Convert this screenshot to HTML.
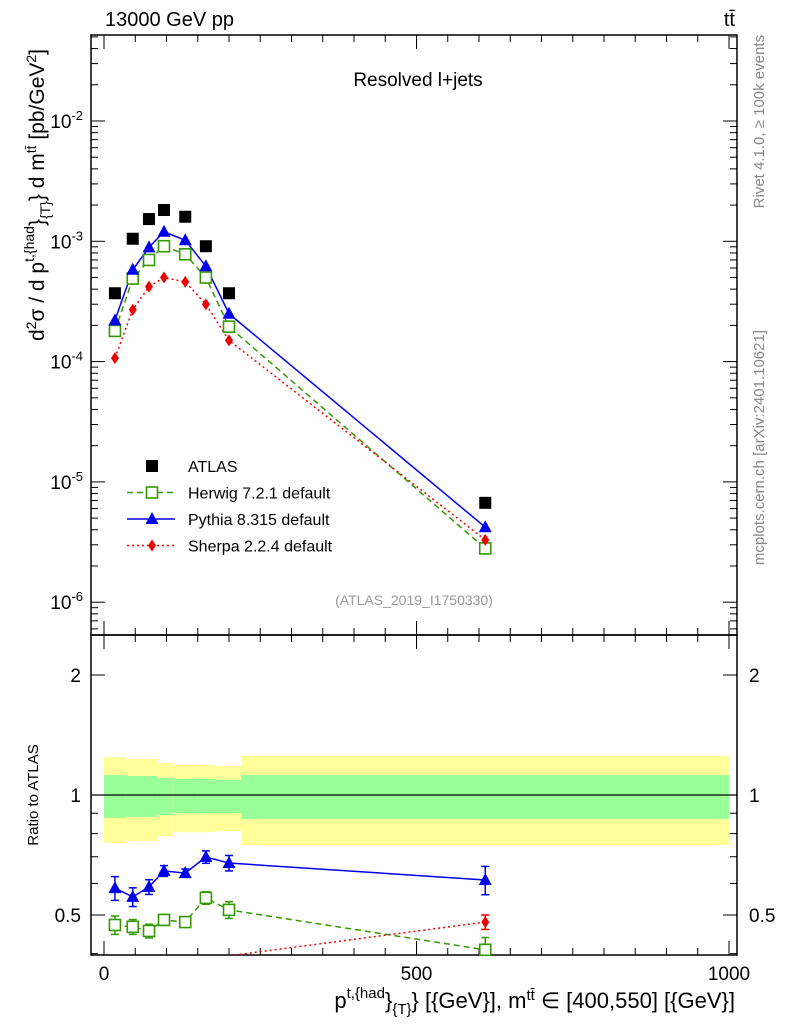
<!DOCTYPE html>
<html><head><meta charset="utf-8"><style>
body{margin:0;background:#fff;width:786px;height:1024px;overflow:hidden}
svg text{font-family:"Liberation Sans",sans-serif}
</style></head><body>
<svg id="c" width="786" height="1024" xmlns="http://www.w3.org/2000/svg"></svg>
<script>
const xs=[17.5,46,72,96,130,163,200,610];
const atlas=[3.7e-4,1.05e-3,1.53e-3,1.82e-3,1.6e-3,9.1e-4,3.7e-4,6.7e-6];
const pythia=[2.2e-4,5.8e-4,8.9e-4,1.2e-3,1.02e-3,6.2e-4,2.5e-4,4.2e-6];
const herwig=[1.8e-4,4.9e-4,7.0e-4,9.1e-4,7.8e-4,5.0e-4,1.95e-4,2.8e-6];
const sherpa=[1.07e-4,2.7e-4,4.2e-4,5.0e-4,4.6e-4,3.0e-4,1.5e-4,3.3e-6];
const rPythia=[0.584,0.555,0.588,0.645,0.637,0.699,0.675,0.612];
const rPythiaErr=[0.04,0.03,0.025,0.02,0.015,0.025,0.03,0.05];
const rHerwig=[0.472,0.467,0.456,0.486,0.48,0.552,0.515,0.409];
const rHerwigErr=[0.025,0.02,0.018,0.015,0.012,0.02,0.025,0.03];
const rSherpa=[0.29,0.28,0.28,0.29,0.29,0.31,0.395,0.48];
const edges=[0,35,60,85,110,150,180,220,1000];
const band2Hi=[1.245,1.231,1.231,1.203,1.189,1.189,1.182,1.253];
const band1Hi=[1.122,1.116,1.116,1.103,1.097,1.097,1.091,1.122];
const band1Lo=[0.876,0.881,0.881,0.891,0.901,0.901,0.901,0.871];
const band2Lo=[0.758,0.767,0.767,0.789,0.807,0.807,0.812,0.749];
const mainTicks=[-6,-5,-4,-3,-2];
const xTicks=[0,500,1000];

const S=document.getElementById('c'),NS='http://www.w3.org/2000/svg';
function el(t,a,p){const e=document.createElementNS(NS,t);for(const k in a)e.setAttribute(k,a[k]);(p||S).appendChild(e);return e;}
const L=91,R=737,T=35,MB=635,RB=955;
const X=v=>104+v*0.625;
const Y=v=>121-(Math.log10(v)+2)*120.3;
const RY=v=>795-Math.log2(v)*120;
const defs=el('defs',{});
const cp=el('clipPath',{id:'rc'},defs);el('rect',{x:L,y:MB,width:R-L,height:RB-MB},cp);
const cm=el('clipPath',{id:'mc'},defs);el('rect',{x:L,y:T,width:R-L,height:MB-T},cm);
const gb=el('g',{'clip-path':'url(#rc)'});
for(let i=0;i<edges.length-1;i++){
 const x1=X(edges[i]),x2=X(edges[i+1]);
 const y=el('rect',{x:x1,y:RY(band2Hi[i]),width:x2-x1,height:RY(band2Lo[i])-RY(band2Hi[i]),fill:'#ffff99'},gb);
 
 const g=el('rect',{x:x1,y:RY(band1Hi[i]),width:x2-x1,height:RY(band1Lo[i])-RY(band1Hi[i]),fill:'#99ff99'},gb);
 
}
el('line',{x1:L,x2:R,y1:795,y2:795,stroke:'#000','stroke-width':1.3});
el('rect',{x:L,y:T,width:R-L,height:MB-T,fill:'none',stroke:'#000','stroke-width':1.5});
el('rect',{x:L,y:MB,width:R-L,height:RB-MB,fill:'none',stroke:'#000','stroke-width':1.5});
for(const e of mainTicks){
 const y=Y(Math.pow(10,e));
 el('line',{x1:L,x2:L+14,y1:y,y2:y,stroke:'#000'});el('line',{x1:R,x2:R-14,y1:y,y2:y,stroke:'#000'});
 const t=el('text',{x:L-8,y:y+7,'font-size':19,'text-anchor':'end'});t.innerHTML='10<tspan dy="-8" font-size="13">'+e+'</tspan>';
 
}
for(let e=-7;e<=-2;e++)for(let m=2;m<10;m++){const y=Y(m*Math.pow(10,e));if(y<T||y>MB)continue;
 el('line',{x1:L,x2:L+7,y1:y,y2:y,stroke:'#000'});el('line',{x1:R,x2:R-7,y1:y,y2:y,stroke:'#000'});}
for(let v=0;v<=1000;v+=50){const x=X(v),big=v%500==0,h=big?14:7;
 for(const yb of [MB,RB]){el('line',{x1:x,x2:x,y1:yb,y2:yb-h,stroke:'#000'});}
 el('line',{x1:x,x2:x,y1:T,y2:T+h,stroke:'#000'});el('line',{x1:x,x2:x,y1:MB,y2:MB+h,stroke:'#000'});}
for(const v of xTicks){const t=el('text',{x:X(v),y:980,'font-size':19,'text-anchor':'middle'});t.textContent=v;
 }
for(const v of [0.4,0.5,0.6,0.7,0.8,0.9,1,2]){const y=RY(v),h=(v==0.5||v==1||v==2)?14:7;
 el('line',{x1:L,x2:L+h,y1:y,y2:y,stroke:'#000'});el('line',{x1:R,x2:R-h,y1:y,y2:y,stroke:'#000'});}
for(const v of [0.5,1,2]){
 const a=el('text',{x:L-10,y:RY(v)+7,'font-size':19,'text-anchor':'end'});a.textContent=v;
 
 const b=el('text',{x:R+12,y:RY(v)+7,'font-size':19});b.textContent=v;
 }
function line(vals,fy,col,dash,clip,name){const p=el('polyline',{points:vals.map((v,i)=>X(xs[i])+','+fy(v)).join(' '),fill:'none',stroke:col,'stroke-width':1.5,'stroke-dasharray':dash,'clip-path':clip});
 }
function marker(kind,x,y,col,name){let m;
 if(kind=='sq')m=el('rect',{x:x-6,y:y-6,width:12,height:12,fill:'#000'});
 else if(kind=='osq')m=el('rect',{x:x-5.5,y:y-5.5,width:11,height:11,fill:'#fff',stroke:col,'stroke-width':1.6});
 else if(kind=='tri')m=el('polygon',{points:`${x},${y-7} ${x-6.5},${y+5} ${x+6.5},${y+5}`,fill:col});
 else m=el('polygon',{points:`${x},${y-6} ${x-4},${y} ${x},${y+6} ${x+4},${y}`,fill:col});
 }
const G='#339900',B='#0000ee',Rd='#ee0000';
line(herwig,Y,G,'6,4','url(#mc)','herwig-line');
line(pythia,Y,B,'','url(#mc)','pythia-line');
line(sherpa,Y,Rd,'2,3','url(#mc)','sherpa-line');
xs.forEach((x,i)=>{marker('sq',X(x),Y(atlas[i]),'#000','atlas-point');marker('osq',X(x),Y(herwig[i]),G,'herwig-point');
 marker('tri',X(x),Y(pythia[i]),B,'pythia-point');marker('dia',X(x),Y(sherpa[i]),Rd,'sherpa-point');});
line(rHerwig,RY,G,'6,4','url(#rc)','herwig-ratio-line');
line(rPythia,RY,B,'','url(#rc)','pythia-ratio-line');
line(rSherpa,RY,Rd,'2,3','url(#rc)','sherpa-ratio-line');
function eb(v,e,col){return i=>{const x=X(xs[i]),y1=RY(v[i]+e[i]),y2=RY(v[i]-e[i]);
 const g=el('g',{'clip-path':'url(#rc)'});
 el('line',{x1:x,x2:x,y1:y1,y2:y2,stroke:col,'stroke-width':1.5},g);el('line',{x1:x-4,x2:x+4,y1:y1,y2:y1,stroke:col,'stroke-width':1.5},g);el('line',{x1:x-4,x2:x+4,y1:y2,y2:y2,stroke:col,'stroke-width':1.5},g);};}
xs.forEach((x,i)=>{eb(rHerwig,rHerwigErr,G)(i);marker('osq',X(x),RY(rHerwig[i]),G,'herwig-ratio-point');
 eb(rPythia,rPythiaErr,B)(i);marker('tri',X(x),RY(rPythia[i]),B,'pythia-ratio-point');
 if(RY(rSherpa[i])<RB-3){eb(rSherpa,[0,0,0,0,0,0,0,0.02],Rd)(i);marker('dia',X(x),RY(rSherpa[i]),Rd,'sherpa-ratio-point');}});
const leg=[['sq','#000','ATLAS',''],['osq',G,'Herwig 7.2.1 default','6,4'],['tri',B,'Pythia 8.315 default',''],['dia',Rd,'Sherpa 2.2.4 default','2,3']];
leg.forEach((l,i)=>{const y=466+i*26.5;
 if(i>0)el('line',{x1:127,x2:175,y1:y,y2:y,stroke:l[1],'stroke-width':1.5,'stroke-dasharray':l[3]});
 marker(l[0],152,y,l[1],'legend-marker');
 const t=el('text',{x:188,y:y+6,'font-size':16});t.textContent=l[2];});
</script>
<svg width="786" height="1024" style="position:absolute;left:0;top:0" xmlns="http://www.w3.org/2000/svg">
<text x="105" y="26" font-size="20" font-family="Liberation Sans,sans-serif">13000 GeV pp</text>
<text x="735" y="26" font-size="20" text-anchor="end" font-family="Liberation Sans,sans-serif">tt̄</text>
<text x="418" y="86" font-size="19" text-anchor="middle" font-family="Liberation Sans,sans-serif">Resolved l+jets</text>
<text x="414" y="605" font-size="14" fill="#999" text-anchor="middle" font-family="Liberation Sans,sans-serif">(ATLAS_2019_I1750330)</text>
<text transform="translate(44,195) rotate(-90)" font-size="21" text-anchor="middle" font-family="Liberation Sans,sans-serif">d<tspan dy="-8" font-size="14">2</tspan><tspan dy="8">σ / d p</tspan><tspan dy="-10" font-size="14">t,{had</tspan><tspan dy="10">}</tspan><tspan font-size="14" dy="6">{T}</tspan><tspan dy="-6">} d m</tspan><tspan dy="-8" font-size="14">tt̄</tspan><tspan dy="8"> [pb/GeV</tspan><tspan dy="-8" font-size="14">2</tspan><tspan dy="8">]</tspan></text>
<text transform="translate(38,795) rotate(-90)" font-size="15" text-anchor="middle" font-family="Liberation Sans,sans-serif">Ratio to ATLAS</text>
<text x="735" y="1008" font-size="22" text-anchor="end" font-family="Liberation Sans,sans-serif">p<tspan dy="-10" font-size="15">t,{had</tspan><tspan dy="10">}</tspan><tspan dy="6" font-size="15">{T}</tspan><tspan dy="-6">} [{GeV}], m</tspan><tspan dy="-8" font-size="15">tt̄</tspan><tspan dy="8"> ∈ [400,550] [{GeV}]</tspan></text>
<text transform="translate(764,35) rotate(-90)" font-size="15" fill="#888" text-anchor="end" font-family="Liberation Sans,sans-serif">Rivet 4.1.0, ≥ 100k events</text>
<text transform="translate(764,330) rotate(-90)" font-size="15" fill="#888" text-anchor="end" font-family="Liberation Sans,sans-serif">mcplots.cern.ch [arXiv:2401.10621]</text>
</svg>
</body></html>
